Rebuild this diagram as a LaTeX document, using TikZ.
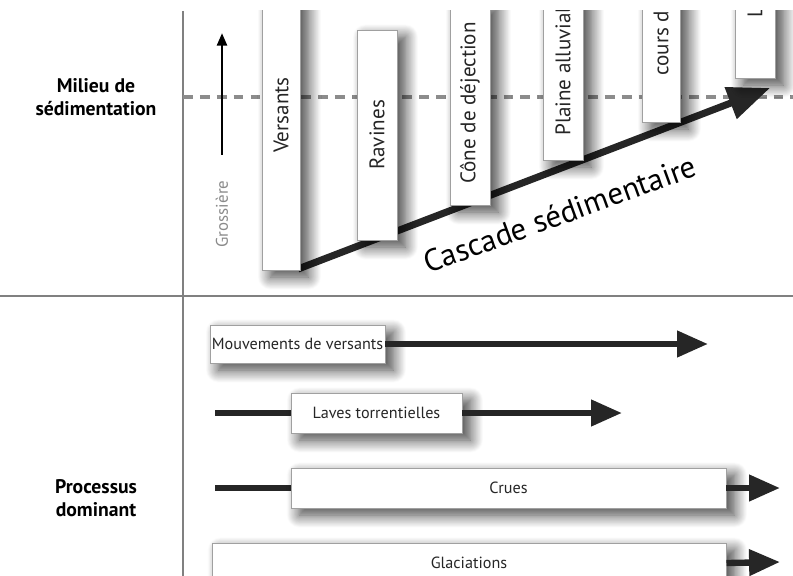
\documentclass[tikz,border=0pt]{standalone}
\usepackage{fontspec}
\setmainfont{PT Sans}
\usepackage{tikz}
\usetikzlibrary{arrows.meta,shadows.blur}
\definecolor{arrowgray}{HTML}{262626}
\definecolor{rulegray}{HTML}{808080}
\definecolor{dashgray}{HTML}{8C8C8C}
\definecolor{boxline}{HTML}{A0A0A0}
\definecolor{graintext}{HTML}{8A8A8A}

\begin{document}
\begin{tikzpicture}[x=0.025cm,y=-0.025cm,
    sedbox/.style={draw=boxline,line width=0.6pt,fill=white,inner sep=0pt,
        font=\fontsize{15}{17}\selectfont,text=black!85,
        blur shadow={shadow xshift=6pt,shadow yshift=-5pt,shadow blur radius=9pt,
          shadow blur steps=16,shadow opacity=75}},
    procbox/.style={sedbox,font=\fontsize{11.5}{13}\selectfont,minimum height=1cm},
    flow/.style={draw=arrowgray,line width=4.5pt,-{Triangle[length=22pt,width=18pt]}},
    bar/.style={draw=arrowgray,line width=4.5pt},
    head/.style={font=\bfseries\fontsize{14}{16}\selectfont,align=center},
  ]
\useasboundingbox (0,0) rectangle (793,576);
\begin{scope}
  \clip (0,11) rectangle (793,576);
  % frame
  \draw[rulegray,line width=1.2pt] (183,11) -- (183,576);
  \draw[rulegray,line width=1.2pt] (0,296) -- (793,296);
  \draw[dashgray,line width=2.6pt,dash pattern=on 7pt off 5pt] (183,97) -- (793,97);

  \node[head] (milieu) at (96,97) {Milieu de\\sédimentation};
  \node[head] (processus) at (96,498) {Processus\\dominant};

  % granulometrie
  \node[text=graintext,rotate=90,font=\fontsize{12}{14}\selectfont] (grossiere) at (222,214) {Grossière};
  \coordinate (gbas) at (222,155);
  \coordinate (ghaut) at (222,33);
  \draw[line width=2pt,-{Triangle[length=9pt,width=7pt]}] (gbas) -- (ghaut);

  % cascade
  \coordinate (cdebut) at (298,269);
  \coordinate (cfin) at (770,88);
  \draw[arrowgray,line width=5pt,-{Triangle[length=30pt,width=23pt]}] (cdebut) -- (cfin);
  \node[rotate=20,font=\fontsize{22}{24}\selectfont] (cascade) at (560,214) {Cascade sédimentaire};

  \node[sedbox,minimum width=0.95cm,minimum height=7.75cm] (versants) at (281,115) {\rotatebox{90}{Versants}};
  \node[sedbox,minimum width=1cm,minimum height=5.25cm] (ravines) at (377,135) {\rotatebox{90}{Ravines}};
  \node[sedbox,minimum width=1cm,minimum height=5.1cm] (cone) at (470,103) {\rotatebox{90}{Cône de déjection}};
  \node[sedbox,minimum width=1cm,minimum height=4.7cm] (plaine) at (563,66) {\rotatebox{90}{Plaine alluviale}};
  \node[sedbox,minimum width=0.95cm,minimum height=4.8cm] (cours) at (661,26) {\rotatebox{90}{cours d'eau}};
  \node[sedbox,minimum width=1cm,minimum height=3.8cm] (lac) at (755,2) {\rotatebox{90}{Lac}};

  % processus
  \node[procbox,minimum width=4.375cm,minimum height=0.95cm] (mouvements) at (297.5,344) {Mouvements de versants};
  \coordinate (mfin) at (708,344);
  \draw[flow] (mouvements.east) -- (mfin);

  \coordinate (ldebut) at (215,413);
  \coordinate (lfin) at (622,413);
  \draw[bar] (ldebut) -- (376,413);
  \node[procbox,minimum width=4.275cm] (laves) at (376.5,413) {Laves torrentielles};
  \draw[flow] (laves.east) -- (lfin);

  \coordinate (cdeb) at (215,488);
  \coordinate (cfn) at (780,488);
  \draw[bar] (cdeb) -- (400,488);
  \node[procbox,minimum width=10.875cm] (crues) at (508.5,488) {Crues};
  \draw[flow] (crues.east) -- (cfn);

  \coordinate (gfin) at (780,562);
  \node[procbox,minimum width=12.85cm] (glaciations) at (469,563) {Glaciations};
  \draw[flow] (glaciations.east) -- (gfin);
\end{scope}
\end{tikzpicture}
\end{document}
